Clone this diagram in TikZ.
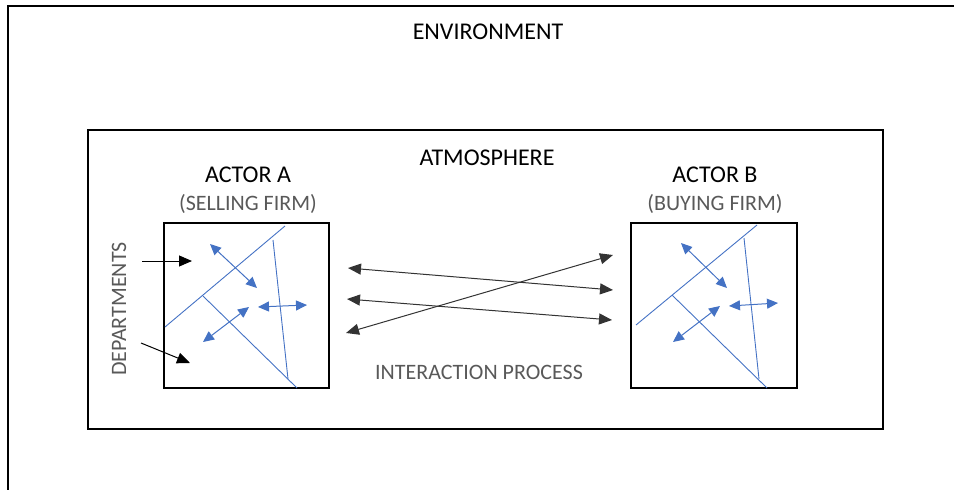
\documentclass[tikz,border=0pt]{standalone}
\usepackage{fontspec}
\setmainfont{Carlito}
\usetikzlibrary{arrows.meta}
\definecolor{bl}{HTML}{4472C4}
\definecolor{gt}{HTML}{595959}
\begin{document}
\begin{tikzpicture}[x=1pt,y=-1pt,
 frame/.style={draw=black,line width=2.2pt},
 box/.style={draw=black,line width=2pt,inner sep=0pt,outer sep=0pt,anchor=north west},
 ttl/.style={font=\fontsize{24}{28}\selectfont,text=black,inner sep=0pt},
 sub/.style={font=\fontsize{22}{26}\selectfont,text=gt,inner sep=0pt},
 ia/.style={draw=black!80,line width=1pt,{Triangle[length=13pt,width=11pt]}-{Triangle[length=13pt,width=11pt]}},
 da/.style={draw=black,line width=1pt,-{Triangle[length=13pt,width=11pt]}},
 dl/.style={draw=bl,line width=0.9pt},
 ba/.style={draw=bl,line width=1pt,{Triangle[length=11pt,width=10pt]}-{Triangle[length=11pt,width=10pt]}}]
\useasboundingbox (0,0) rectangle (954,490);
% environment frame
\coordinate (eb) at (8,500);
\coordinate (ec) at (8,6);
\coordinate (er) at (970,6);
\draw[frame] (eb) -- (ec) -- (er);
\node[ttl] (env) at (488,32) {ENVIRONMENT};
% atmosphere
\node[box,minimum width=795pt,minimum height=299pt] (atm) at (88,130) {};
\node[ttl] (atmt) at (487,158) {ATMOSPHERE};
% actors
\node[box,minimum width=165pt,minimum height=165pt] (A) at (164,223) {};
\node[box,minimum width=166pt,minimum height=165pt] (B) at (631,223) {};
\node[ttl] (At) at (248,175) {ACTOR A};
\node[sub] (As) at (248,204) {(SELLING FIRM)};
\node[ttl] (Bt) at (715,175) {ACTOR B};
\node[sub] (Bs) at (715,204) {(BUYING FIRM)};
\node[sub,rotate=90,font=\fontsize{22}{26}\selectfont] (dep) at (119,309) {DEPARTMENTS};
\node[sub] (ip) at (479,372) {INTERACTION PROCESS};
% departments arrows
\coordinate (d1s) at (142,261); \coordinate (d1e) at (192,261);
\coordinate (d2s) at (141,343); \coordinate (d2e) at (190,363);
\draw[da] (d1s) -- (d1e);
\draw[da] (d2s) -- (d2e);
% actor A internals
\coordinate (a1) at (165,327); \coordinate (a2) at (285,226);
\coordinate (a3) at (273,240); \coordinate (a4) at (288,379);
\coordinate (a5) at (203,296); \coordinate (a6) at (297,388);
\draw[dl] (a1) -- (a2);
\draw[dl] (a3) -- (a4);
\draw[dl] (a5) -- (a6);
\coordinate (ab1) at (210,244); \coordinate (ab2) at (257,288);
\coordinate (ab3) at (258,307); \coordinate (ab4) at (307,305);
\coordinate (ab5) at (203,342); \coordinate (ab6) at (249,307);
\draw[ba] (ab1) -- (ab2);
\draw[ba] (ab3) -- (ab4);
\draw[ba] (ab5) -- (ab6);
% actor B internals
\coordinate (b1) at (636,325); \coordinate (b2) at (757,225);
\coordinate (b3) at (744,238); \coordinate (b4) at (759,379);
\coordinate (b5) at (672,295); \coordinate (b6) at (767,388);
\draw[dl] (b1) -- (b2);
\draw[dl] (b3) -- (b4);
\draw[dl] (b5) -- (b6);
\coordinate (bb1) at (681,243); \coordinate (bb2) at (727,288);
\coordinate (bb3) at (729,306); \coordinate (bb4) at (778,303);
\coordinate (bb5) at (673,342); \coordinate (bb6) at (720,306);
\draw[ba] (bb1) -- (bb2);
\draw[ba] (bb3) -- (bb4);
\draw[ba] (bb5) -- (bb6);
% interaction arrows
\coordinate (i1a) at (348,268); \coordinate (i1b) at (613,290);
\coordinate (i2a) at (347,299); \coordinate (i2b) at (612,320);
\coordinate (i3a) at (346,333); \coordinate (i3b) at (613,255);
\draw[ia] (i1a) -- (i1b);
\draw[ia] (i2a) -- (i2b);
\draw[ia] (i3a) -- (i3b);
\end{tikzpicture}
\end{document}
